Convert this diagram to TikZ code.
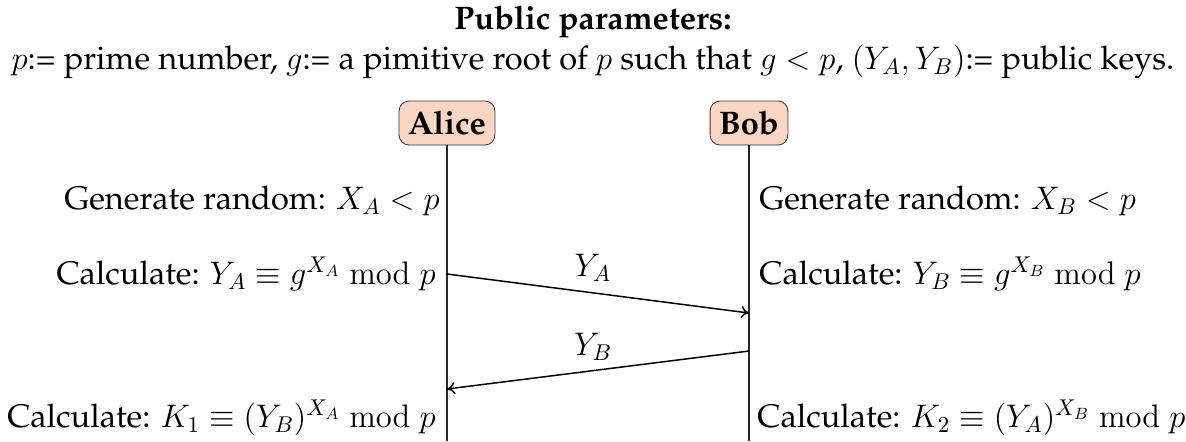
\documentclass[tikz,border=0pt]{standalone}
\usepackage{fix-cm}
\usepackage[T1]{fontenc}
\usepackage{palatino}
\usetikzlibrary{arrows.meta}
\definecolor{peach}{RGB}{252,214,196}
\begin{document}
\begin{tikzpicture}[x=0.5pt,y=-0.5pt,
  party/.style={draw=black!80,fill=peach,rounded corners=5pt,font=\fontsize{16.3}{19}\selectfont\bfseries,inner xsep=4.5pt,inner ysep=2pt,minimum height=22pt},
  txt/.style={font=\fontsize{16.3}{19}\selectfont,inner sep=0pt},
  life/.style={line width=0.9pt,black!85},
  msg/.style={-{To[length=4pt,width=6pt]},line width=0.75pt}]
\useasboundingbox (0,0) rectangle (1186,441);
\node[txt,font=\fontsize{16.3}{19}\selectfont\bfseries] (title) at (593,22) {Public parameters:};
\node[txt] (params) at (593,62) {$p$:= prime number, $g$:= a pimitive root of $p$ such that $g<p$, $(Y_A,Y_B)$:= public keys.};
\node[party] (alice) at (447,123) {Alice};
\node[party] (bob) at (749,123) {Bob};
\coordinate (aend) at (447,441);
\coordinate (bend) at (749,441);
\draw[life] (alice.south) -- (aend);
\draw[life] (bob.south) -- (bend);
\node[txt,anchor=east] (la) at (440,201) {Generate random: $X_A<p$};
\node[txt,anchor=east] (lb) at (436,274) {Calculate: $Y_A\equiv g^{X_A}\bmod p$};
\node[txt,anchor=east] (lc) at (436,418) {Calculate: $K_1\equiv (Y_B)^{X_A}\bmod p$};
\node[txt,anchor=west] (ra) at (759,201) {Generate random: $X_B<p$};
\node[txt,anchor=west] (rb) at (759,274) {Calculate: $Y_B\equiv g^{X_B}\bmod p$};
\node[txt,anchor=west] (rc) at (757,418) {Calculate: $K_2\equiv (Y_A)^{X_B}\bmod p$};
\coordinate (a1) at (447,274);
\coordinate (b1) at (749,313);
\coordinate (b2) at (749,351);
\coordinate (a2) at (447,389);
\draw[msg] (a1) -- (b1);
\draw[msg] (b2) -- (a2);
\node[txt] (ya) at (593,268) {$Y_A$};
\node[txt] (yb) at (593,347) {$Y_B$};
\end{tikzpicture}
\end{document}
